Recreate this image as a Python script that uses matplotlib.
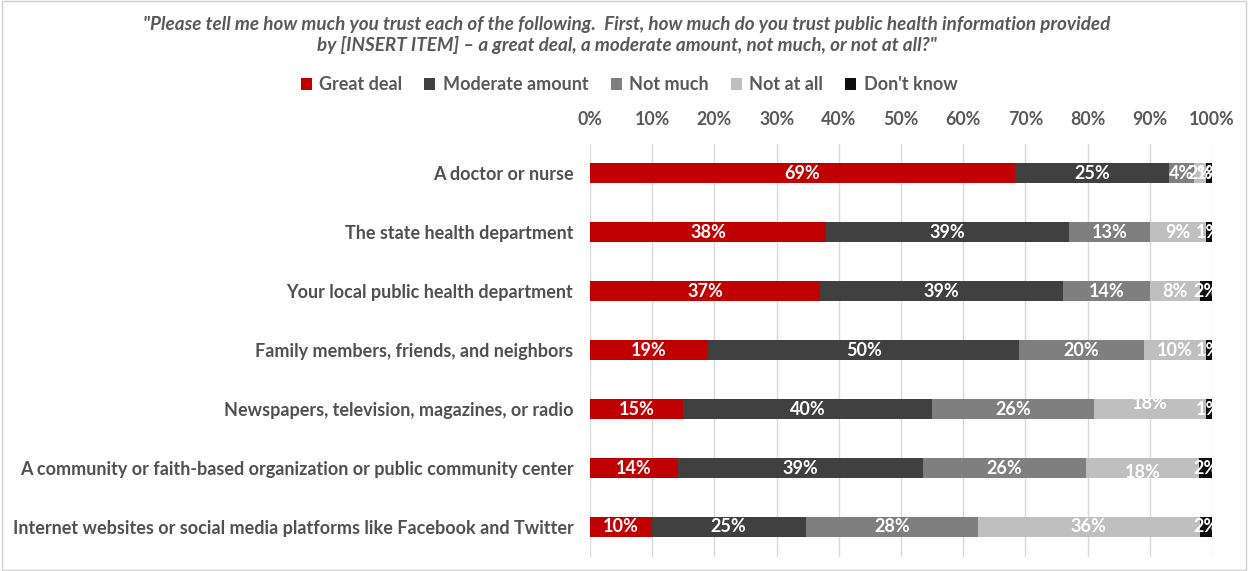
import matplotlib
matplotlib.use("Agg")
import matplotlib.pyplot as plt
from matplotlib.patches import Rectangle
import numpy as np

plt.rcParams['font.family'] = ['Lato', 'DejaVu Sans']

sources = [
    "A doctor or nurse",
    "The state health department",
    "Your local public health department",
    "Family members, friends, and neighbors",
    "Newspapers, television, magazines, or radio",
    "A community or faith-based organization or public community center",
    "Internet websites or social media platforms like Facebook and Twitter",
]
responses = ["Great deal", "Moderate amount", "Not much", "Not at all", "Don't know"]
great_deal = [69, 38, 37, 19, 15, 14, 10]
moderate = [25, 39, 39, 50, 40, 39, 25]
not_much = [4, 13, 14, 20, 26, 26, 28]
not_at_all = [2, 9, 8, 10, 18, 18, 36]
dont_know = [1, 1, 2, 1, 1, 2, 2]
tick_labels = ["0%", "10%", "20%", "30%", "40%", "50%", "60%", "70%", "80%", "90%", "100%"]

colors = ["#C00000", "#404040", "#7F7F7F", "#BFBFBF", "#0D0D0D"]
text_gray = "#505050"

series = np.array([great_deal, moderate, not_much, not_at_all, dont_know], dtype=float)
totals = series.sum(axis=0)
shares = series / totals  # 100% stacked

fig = plt.figure(figsize=(12.48, 5.71), dpi=100)
ax = fig.add_axes([590 / 1248, 1 - 556.5 / 571, 622 / 1248, 413 / 571])

y = np.arange(len(sources))
left = np.zeros(len(sources))
bars = []
# manual vertical nudges for a couple of crowded labels (in row units)
nudge = {(3, 4): -0.1, (3, 5): 0.08}
for i, (name, col) in enumerate(zip(responses, colors)):
    b = ax.barh(y, shares[i], left=left, height=0.34, color=col, label=name, zorder=3)
    bars.append(b)
    for r in range(len(sources)):
        cx = left[r] + shares[i][r] / 2
        dy = nudge.get((i, r), 0)
        ax.text(cx, y[r] + dy, f"{int(series[i][r])}%", ha="center", va="center",
                color="white", fontsize=13, fontweight="bold", zorder=4, clip_on=True)
    left = left + shares[i]

ax.set_xlim(0, 1)
ax.set_ylim(len(sources) - 0.5, -0.5)
ax.set_xticks(np.linspace(0, 1, 11))
ax.set_xticklabels(tick_labels)
ax.xaxis.tick_top()
ax.tick_params(axis="x", length=0, pad=11, labelsize=12.8, labelcolor="#595959")
for t in ax.get_xticklabels():
    t.set_fontweight("bold")
ax.set_yticks(y)
ax.set_yticklabels(sources)
ax.tick_params(axis="y", length=0, pad=12, labelsize=13, labelcolor=text_gray)
for t in ax.get_yticklabels():
    t.set_fontweight("bold")
ax.grid(axis="x", color="#D9D9D9", linewidth=1, zorder=0)
for s in ax.spines.values():
    s.set_visible(False)

fig.text(0.5025, 1 - 35 / 571,
         "\"Please tell me how much you trust each of the following.  First, how much do you trust public health information provided\n"
         "by [INSERT ITEM] \u2013 a great deal, a moderate amount, not much, or not at all?\"",
         ha="center", va="center", fontsize=13.6, style="italic", fontweight="bold",
         color="#595959", linespacing=1.25)

leg = fig.legend(handles=bars, labels=responses, loc="center", bbox_to_anchor=(629 / 1248, 1 - 85 / 571),
                 ncol=5, frameon=False, handlelength=0.6, handleheight=0.6, handletextpad=0.4,
                 columnspacing=1.25, prop={"size": 13, "weight": "bold"})
for t in leg.get_texts():
    t.set_color("#595959")

# thin frame around the whole figure
fig.patches.append(Rectangle((0.002, 0.002), 0.996, 0.996, transform=fig.transFigure,
                             fill=False, edgecolor="#D0D0D0", linewidth=1))

fig.savefig("out.png", dpi=100, facecolor="white")
